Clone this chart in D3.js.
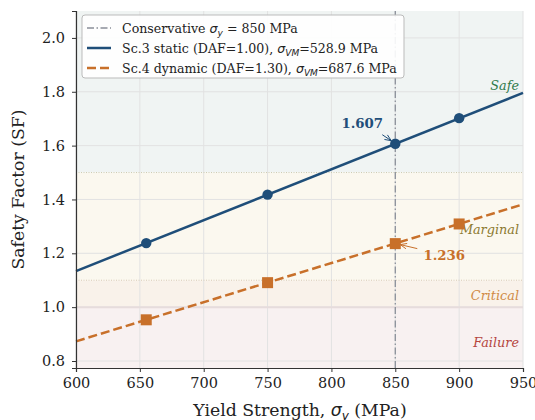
<!DOCTYPE html>
<html>
<head>
<meta charset="utf-8">
<script src="https://cdn.jsdelivr.net/npm/d3@7"></script>
<style>
  html, body { margin: 0; padding: 0; background: #fff; }
  svg text { font-family: "DejaVu Serif", serif; }
</style>
</head>
<body>
<svg id="chart" width="535" height="420"></svg>
<script>
// Yield strength (MPa) at which each scenario is evaluated
const yieldPoints = [655, 750, 850, 900];
// Safety factor, static scenario (DAF = 1.00)
const sfStatic = [1.238, 1.418, 1.607, 1.702];
// Safety factor, dynamic scenario (DAF = 1.30)
const sfDynamic = [0.953, 1.091, 1.236, 1.309];
// Trend lines across the full axis range
const lineYield = [600, 950];
const lineStatic = [1.134, 1.796];
const lineDynamic = [0.873, 1.382];

const xTicks = [600, 650, 700, 750, 800, 850, 900, 950];
const yTicks = [0.8, 1.0, 1.2, 1.4, 1.6, 1.8, 2.0];

// Safety zones
const zoneNames = ["Failure", "Critical", "Marginal", "Safe"];
const zoneLow = [0.774, 1.0, 1.1, 1.5];
const zoneHigh = [1.0, 1.1, 1.5, 2.1];
const zoneLabelAt = [0.87, 1.045, 1.29, 1.822];

const conservativeYield = 850;

const margin = { left: 76, right: 12, top: 11, bottom: 52 };
const W = 535, H = 420;
const svg = d3.select("#chart");

const x = d3.scaleLinear().domain([600, 950]).range([margin.left, W - margin.right]);
const y = d3.scaleLinear().domain([0.774, 2.1]).range([H - margin.bottom, margin.top]);

const zoneFill = ["#f8f1f1", "#f9f2ea", "#fbf8ef", "#f0f4f3"];
const zoneText = ["#b5453f", "#d08a45", "#8c7a30", "#2f7a4a"];

// zone bands
svg.append("g").selectAll("rect").data(zoneNames).join("rect")
  .attr("x", x(600)).attr("width", x(950) - x(600))
  .attr("y", (d, i) => y(zoneHigh[i]))
  .attr("height", (d, i) => y(zoneLow[i]) - y(zoneHigh[i]))
  .attr("fill", (d, i) => zoneFill[i]);

// grid
const grid = svg.append("g").attr("stroke", "#e2e2e2").attr("stroke-width", 1);
grid.selectAll(".gx").data(xTicks).join("line")
  .attr("x1", d => x(d)).attr("x2", d => x(d))
  .attr("y1", y.range()[0]).attr("y2", y.range()[1]);
grid.selectAll(".gy").data(yTicks).join("line")
  .attr("x1", x(600)).attr("x2", x(950))
  .attr("y1", d => y(d)).attr("y2", d => y(d));

// zone boundaries
svg.append("line").attr("x1", x(600)).attr("x2", x(950))
  .attr("y1", y(1.0)).attr("y2", y(1.0))
  .attr("stroke", "#e6dcdc").attr("stroke-width", 2);
svg.append("line").attr("x1", x(600)).attr("x2", x(950))
  .attr("y1", y(1.1)).attr("y2", y(1.1))
  .attr("stroke", "#d9c9b4").attr("stroke-width", 1).attr("stroke-dasharray", "1,1.5");
svg.append("line").attr("x1", x(600)).attr("x2", x(950))
  .attr("y1", y(1.5)).attr("y2", y(1.5))
  .attr("stroke", "#cfcbb0").attr("stroke-width", 1).attr("stroke-dasharray", "1,1.5");

// zone labels
svg.append("g").selectAll("text").data(zoneNames).join("text")
  .attr("x", x(950) - 4).attr("y", (d, i) => y(zoneLabelAt[i]))
  .attr("dy", "0.35em").attr("text-anchor", "end")
  .attr("font-style", "italic").attr("font-size", 12.8)
  .attr("fill", (d, i) => zoneText[i])
  .text(d => d);

// conservative yield marker
svg.append("line")
  .attr("x1", x(conservativeYield)).attr("x2", x(conservativeYield))
  .attr("y1", y.range()[0]).attr("y2", y.range()[1])
  .attr("stroke", "#8a8f99").attr("stroke-width", 1.3)
  .attr("stroke-dasharray", "7,2.5,1.5,2.5");

const blue = "#1f4e79", orange = "#c8702a";
const line = d3.line().x(d => x(d[0])).y(d => y(d[1]));

svg.append("path").datum(d3.zip(lineYield, lineStatic)).attr("d", line)
  .attr("fill", "none").attr("stroke", blue).attr("stroke-width", 2.5);
svg.append("path").datum(d3.zip(lineYield, lineDynamic)).attr("d", line)
  .attr("fill", "none").attr("stroke", orange).attr("stroke-width", 2.5)
  .attr("stroke-dasharray", "9,4");

svg.append("g").selectAll("circle").data(d3.zip(yieldPoints, sfStatic)).join("circle")
  .attr("cx", d => x(d[0])).attr("cy", d => y(d[1])).attr("r", 5.2).attr("fill", blue);
svg.append("g").selectAll("rect").data(d3.zip(yieldPoints, sfDynamic)).join("rect")
  .attr("x", d => x(d[0]) - 5.5).attr("y", d => y(d[1]) - 5.5)
  .attr("width", 11).attr("height", 11).attr("fill", orange);

// annotations at the conservative yield
const iCons = yieldPoints.indexOf(conservativeYield);
function arrow(x1, y1, x2, y2, color) {
  const g = svg.append("g").attr("stroke", color).attr("fill", "none").attr("stroke-width", 1);
  g.append("line").attr("x1", x1).attr("y1", y1).attr("x2", x2).attr("y2", y2);
  const a = Math.atan2(y2 - y1, x2 - x1), L = 7, s = 0.4;
  g.append("path").attr("d",
    `M${x2 - L * Math.cos(a - s)},${y2 - L * Math.sin(a - s)}L${x2},${y2}L${x2 - L * Math.cos(a + s)},${y2 - L * Math.sin(a + s)}`);
}
const px = x(conservativeYield);
const pyS = y(sfStatic[iCons]), pyD = y(sfDynamic[iCons]);
arrow(px - 13, pyS - 9, px - 4, pyS - 3, blue);
svg.append("text").attr("x", px - 33).attr("y", pyS - 16)
  .attr("text-anchor", "middle").attr("font-weight", "bold").attr("font-size", 13.3)
  .attr("fill", blue).text(sfStatic[iCons].toFixed(3));
arrow(px + 22, pyD + 5, px + 5, pyD + 1, orange);
svg.append("text").attr("x", px + 49).attr("y", pyD + 16)
  .attr("text-anchor", "middle").attr("font-weight", "bold").attr("font-size", 13.3)
  .attr("fill", orange).text(sfDynamic[iCons].toFixed(3));

// axes
const xAxis = svg.append("g").attr("transform", `translate(0,${y.range()[0]})`)
  .call(d3.axisBottom(x).tickValues(xTicks).tickSize(4).tickPadding(6).tickFormat(d3.format("d")));
const yAxis = svg.append("g").attr("transform", `translate(${margin.left},0)`)
  .call(d3.axisLeft(y).tickValues(yTicks).tickSize(4).tickPadding(7).tickFormat(d3.format(".1f")));
[xAxis, yAxis].forEach(a => {
  a.select(".domain").attr("stroke", "#333").attr("stroke-width", 1.2);
  a.selectAll(".tick line").attr("stroke", "#333");
  a.selectAll(".tick text").attr("font-family", "DejaVu Serif").attr("font-size", 14.5).attr("fill", "#222");
});

// axis titles
const xt = svg.append("text").attr("x", 300).attr("y", 416)
  .attr("text-anchor", "middle").attr("font-size", 17.3).attr("fill", "#222");
xt.append("tspan").text("Yield Strength, ");
xt.append("tspan").attr("font-style", "italic").attr("font-family", "DejaVu Sans").text("σ");
xt.append("tspan").attr("font-style", "italic").attr("font-family", "DejaVu Sans").attr("font-size", 12).attr("dy", 4).text("y");
xt.append("tspan").attr("dy", -4).text(" (MPa)");

svg.append("text").attr("transform", `translate(24,${(y.range()[0] + y.range()[1]) / 2}) rotate(-90)`)
  .attr("text-anchor", "middle").attr("font-size", 17.3).attr("fill", "#222")
  .text("Safety Factor (SF)");

// legend
const lg = svg.append("g").attr("transform", "translate(82,15)");
lg.append("rect").attr("width", 322).attr("height", 63).attr("rx", 3)
  .attr("fill", "#fff").attr("fill-opacity", 0.9).attr("stroke", "#bbb");
const rows = [
  { stroke: "#8a8f99", w: 1.3, dash: "7,2.5,1.5,2.5", parts: [["Conservative ", ""], ["σ", "i"], ["y", "s"], [" = 850 MPa", "b"]] },
  { stroke: blue, w: 2.5, dash: null, parts: [["Sc.3 static (DAF=1.00), ", ""], ["σ", "i"], ["VM", "s"], ["=528.9 MPa", "b"]] },
  { stroke: orange, w: 2.5, dash: "9,4", parts: [["Sc.4 dynamic (DAF=1.30), ", ""], ["σ", "i"], ["VM", "s"], ["=687.6 MPa", "b"]] }
];
rows.forEach((r, i) => {
  const cy = 13 + i * 20;
  lg.append("line").attr("x1", 5).attr("x2", 29).attr("y1", cy).attr("y2", cy)
    .attr("stroke", r.stroke).attr("stroke-width", r.w).attr("stroke-dasharray", r.dash);
  const t = lg.append("text").attr("x", 40).attr("y", cy + 4.7).attr("font-size", 12.6).attr("fill", "#222");
  r.parts.forEach(([s, k]) => {
    const sp = t.append("tspan").text(s);
    if (k === "i") sp.attr("font-style", "italic").attr("font-family", "DejaVu Sans");
    if (k === "s") sp.attr("font-style", "italic").attr("font-family", "DejaVu Sans").attr("font-size", 9).attr("dy", 3);
    if (k === "b") sp.attr("dy", -3);
  });
});
</script>
</body>
</html>
